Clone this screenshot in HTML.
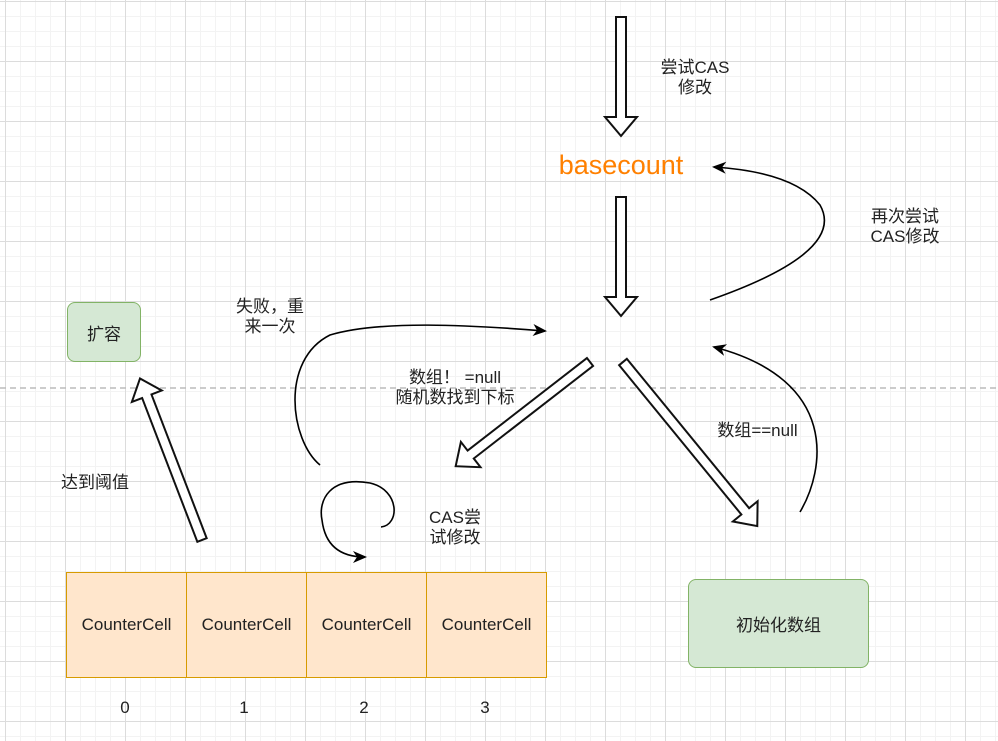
<!DOCTYPE html>
<html><head><meta charset="utf-8"><style>
html,body{margin:0;padding:0}
body{width:998px;height:741px;position:relative;overflow:hidden;background-color:#fff;
background-image:
linear-gradient(to right,#dcdcdc 1px,transparent 1px),
linear-gradient(to bottom,#dcdcdc 1px,transparent 1px),
linear-gradient(to right,#f3f3f3 1px,transparent 1px),
linear-gradient(to bottom,#f3f3f3 1px,transparent 1px);
background-size:60px 60px,60px 60px,15px 15px,15px 15px;
background-position:5px 1px,5px 1px,5px 1px,5px 1px;
font-family:"Liberation Sans","Noto Sans CJK SC",sans-serif;color:#222}
.t{position:absolute;font-size:17px;text-align:center;line-height:20px;white-space:nowrap}
.box{position:absolute;box-sizing:border-box;display:flex;align-items:center;justify-content:center;font-size:17px}
.g{background:#d5e8d4;border:1.5px solid #82b366;border-radius:8px}
.o{background:#ffe6cc;border:1.5px solid #d79b00}
</style></head><body>
<svg width="998" height="741" style="position:absolute;left:0;top:0">
<defs>
<marker id="ah" markerWidth="14" markerHeight="14" refX="12" refY="6" orient="auto" markerUnits="userSpaceOnUse" viewBox="0 0 14 12"><path d="M0,0 L14,6 L0,12 L4,6 Z" fill="#000"/></marker>
</defs>
<line x1="0" y1="388" x2="998" y2="388" stroke="#bbb" stroke-width="1.5" stroke-dasharray="6,4"/>
<g fill="#fff" stroke="#111" stroke-width="2">
<polygon transform="translate(621,17) rotate(90)" points="0,-5 100,-5 100,-16 119,0 100,16 100,5 0,5"/>
<polygon transform="translate(621,197) rotate(90)" points="0,-5 100,-5 100,-16 119,0 100,16 100,5 0,5"/>
<polygon transform="translate(590,362) rotate(142.2)" points="0,-5 151,-5 151,-16 170,0 151,16 151,5 0,5"/>
<polygon transform="translate(623,362) rotate(50.7)" points="0,-5 193,-5 193,-16 212,0 193,16 193,5 0,5"/>
<polygon transform="translate(202,540) rotate(-111)" points="0,-5 154,-5 154,-16 173,0 154,16 154,5 0,5"/>
</g>
<g fill="none" stroke="#000" stroke-width="1.6">
<path d="M710,300 C790,272 840,240 820,205 C800,180 760,170 714,167" marker-end="url(#ah)"/>
<path d="M800,512 C825,470 840,380 714,347" marker-end="url(#ah)"/>
<path d="M320,465 C290,440 280,360 330,335 C380,320 470,325 545,331" marker-end="url(#ah)"/>
<path d="M381,527 C400,525 400,490 370,483 C330,476 318,500 322,520 C325,545 340,557 365,557" marker-end="url(#ah)"/>
</g>
</svg>
<div class="t" style="left:650px;top:58px;width:90px">尝试CAS<br>修改</div>
<div class="t" style="left:540px;top:149px;width:162px;font-size:27px;line-height:32px;color:#ff8000">basecount</div>
<div class="t" style="left:860px;top:207px;width:90px">再次尝试<br>CAS修改</div>
<div class="t" style="left:225px;top:297px;width:90px">失败，重<br>来一次</div>
<div class="t" style="left:375px;top:368px;width:160px">数组！ =null<br>随机数找到下标</div>
<div class="t" style="left:700px;top:421px;width:115px">数组==null</div>
<div class="t" style="left:50px;top:473px;width:90px">达到阈值</div>
<div class="t" style="left:410px;top:508px;width:90px">CAS尝<br>试修改</div>
<div class="box g" style="left:67px;top:302px;width:74px;height:60px">扩容</div>
<div class="box g" style="left:688px;top:579px;width:181px;height:89px">初始化数组</div>
<div class="box o" style="left:66px;top:572px;width:121px;height:106px">CounterCell</div>
<div class="box o" style="left:186px;top:572px;width:121px;height:106px">CounterCell</div>
<div class="box o" style="left:306px;top:572px;width:121px;height:106px">CounterCell</div>
<div class="box o" style="left:426px;top:572px;width:121px;height:106px">CounterCell</div>
<div class="t" style="left:105px;top:698px;width:40px">0</div>
<div class="t" style="left:224px;top:698px;width:40px">1</div>
<div class="t" style="left:344px;top:698px;width:40px">2</div>
<div class="t" style="left:465px;top:698px;width:40px">3</div>
</body></html>
